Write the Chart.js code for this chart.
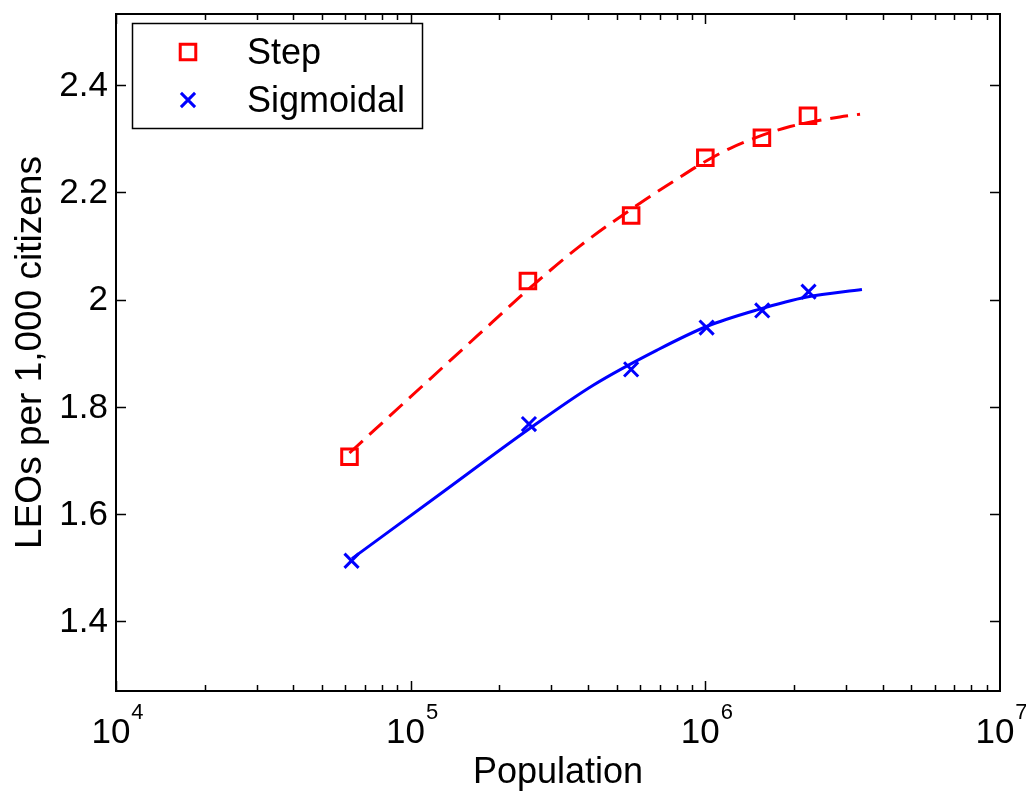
<!DOCTYPE html>
<html>
<head>
<meta charset="utf-8">
<script src="https://cdn.jsdelivr.net/npm/chart.js@4.4.1/dist/chart.umd.min.js"></script>
<style>
  body { margin: 0; background: #fff; }
  canvas { display: block; }
</style>
</head>
<body>
<canvas id="leoChart" width="1026" height="791"></canvas>
<script>
// observed values (markers)
var stepPop = [62000, 250000, 560000, 1000000, 1556000, 2230000];
var stepLeo = [1.707, 2.035, 2.157, 2.265, 2.302, 2.343];
var sigPop = [63000, 252000, 560000, 1010000, 1560000, 2240000];
var sigLeo = [1.513, 1.768, 1.870, 1.948, 1.980, 2.015];

// fitted curves
var stepFitPop = [62000, 116300, 190000, 248000, 375000, 600000, 776000, 959000, 1210000, 1530000, 1940000, 2860000, 3350000];
var stepFitLeo = [1.714, 1.852, 1.959, 2.017, 2.100, 2.180, 2.220, 2.252, 2.282, 2.305, 2.323, 2.341, 2.346];
var sigFitPop = [63200, 125600, 248000, 415000, 686000, 1010000, 1500000, 2210000, 3400000];
var sigFitLeo = [1.517, 1.637, 1.756, 1.840, 1.906, 1.950, 1.981, 2.005, 2.019];

var yTicks = [1.4, 1.6, 1.8, 2, 2.2, 2.4];
var yTickLabels = ['1.4', '1.6', '1.8', '2', '2.2', '2.4'];
var xTicks = [1e4, 1e5, 1e6, 1e7];
var xTickExp = ['4', '5', '6', '7'];
var seriesNames = ['Step', 'Sigmoidal'];

var FONT = '"Liberation Sans", Arial, Helvetica, sans-serif';

function pts(xs, ys) {
  return xs.map(function (x, i) { return { x: x, y: ys[i] }; });
}

var axesPlugin = {
  id: 'matlabAxes',
  afterDraw: function (chart) {
    var ctx = chart.ctx;
    var a = chart.chartArea;
    var xs = chart.scales.x, ys = chart.scales.y;
    ctx.save();
    ctx.strokeStyle = '#000';
    ctx.fillStyle = '#000';
    ctx.lineWidth = 2;
    ctx.strokeRect(a.left, a.top, a.right - a.left, a.bottom - a.top);

    // y ticks (left and right, pointing inward)
    ctx.beginPath();
    yTicks.forEach(function (v) {
      var py = Math.round(ys.getPixelForValue(v)) + 0.5;
      ctx.moveTo(a.left, py); ctx.lineTo(a.left + 10, py);
      ctx.moveTo(a.right, py); ctx.lineTo(a.right - 10, py);
    });
    // x major + minor ticks (bottom and top)
    for (var d = 1e4; d < 1e7; d *= 10) {
      for (var m = 1; m <= 9; m++) {
        var px = Math.round(xs.getPixelForValue(d * m)) + 0.5;
        var len = (m === 1) ? 10 : 6;
        ctx.moveTo(px, a.bottom); ctx.lineTo(px, a.bottom - len);
        ctx.moveTo(px, a.top); ctx.lineTo(px, a.top + len);
      }
    }
    ctx.lineWidth = 1.5;
    ctx.stroke();

    // y tick labels
    ctx.font = '35px ' + FONT;
    ctx.textAlign = 'right';
    ctx.textBaseline = 'middle';
    yTicks.forEach(function (v, i) {
      ctx.fillText(yTickLabels[i], a.left - 8, ys.getPixelForValue(v) + 1);
    });

    // x tick labels 10^n
    ctx.textBaseline = 'alphabetic';
    ctx.textAlign = 'left';
    xTicks.forEach(function (v, i) {
      var px = xs.getPixelForValue(v);
      ctx.font = '35px ' + FONT;
      var wBase = ctx.measureText('10').width;
      ctx.font = '22px ' + FONT;
      var wExp = ctx.measureText(xTickExp[i]).width;
      var x0 = px - (wBase + wExp) / 2 + 1;
      ctx.font = '35px ' + FONT;
      ctx.fillText('10', x0, 743);
      ctx.font = '22px ' + FONT;
      ctx.fillText(xTickExp[i], x0 + wBase + 1, 719);
    });

    // axis titles
    ctx.font = '36px ' + FONT;
    ctx.textAlign = 'center';
    ctx.fillText('Population', (a.left + a.right) / 2, 783);
    ctx.save();
    ctx.translate(41, (a.top + a.bottom) / 2);
    ctx.rotate(-Math.PI / 2);
    ctx.font = '37px ' + FONT;
    ctx.fillText('LEOs per 1,000 citizens', 0, 0);
    ctx.restore();

    // legend
    ctx.fillStyle = '#fff';
    ctx.fillRect(132, 23, 290, 105);
    ctx.lineWidth = 1.5;
    ctx.strokeStyle = '#000';
    ctx.strokeRect(132.5, 23.5, 290, 105);
    var rows = [52, 100];
    var markerDs = [chart.data.datasets[2], chart.data.datasets[3]];
    ctx.textAlign = 'left';
    ctx.textBaseline = 'middle';
    rows.forEach(function (ry, i) {
      var ds = markerDs[i];
      ctx.fillStyle = 'rgba(0,0,0,0)';
      ctx.strokeStyle = ds.borderColor;
      ctx.lineWidth = ds.pointBorderWidth;
      Chart.helpers.drawPoint(ctx, {
        pointStyle: ds.pointStyle,
        radius: ds.pointRadius,
        borderWidth: ds.pointBorderWidth
      }, 188, ry);
      ctx.fillStyle = '#000';
      ctx.font = '36px ' + FONT;
      ctx.fillText(seriesNames[i], 247, ry + 2);
    });
    ctx.restore();
  }
};

new Chart(document.getElementById('leoChart'), {
  type: 'scatter',
  data: {
    datasets: [
      {
        label: 'Step fit',
        data: pts(stepFitPop, stepFitLeo),
        showLine: true,
        borderColor: '#ff0000',
        borderWidth: 3,
        borderDash: [18, 9],
        pointRadius: 0,
        cubicInterpolationMode: 'monotone'
      },
      {
        label: 'Sigmoidal fit',
        data: pts(sigFitPop, sigFitLeo),
        showLine: true,
        borderColor: '#0000ff',
        borderWidth: 3,
        pointRadius: 0,
        cubicInterpolationMode: 'monotone'
      },
      {
        label: 'Step',
        data: pts(stepPop, stepLeo),
        showLine: false,
        pointStyle: 'rect',
        pointRadius: 11,
        pointBorderWidth: 3,
        borderColor: '#ff0000',
        backgroundColor: 'rgba(0,0,0,0)'
      },
      {
        label: 'Sigmoidal',
        data: pts(sigPop, sigLeo),
        showLine: false,
        pointStyle: 'crossRot',
        pointRadius: 10,
        pointBorderWidth: 3,
        borderColor: '#0000ff',
        backgroundColor: '#0000ff'
      }
    ]
  },
  options: {
    responsive: false,
    animation: false,
    layout: {
      padding: { left: 116, right: 26, top: 9, bottom: 100 }
    },
    plugins: {
      legend: { display: false },
      tooltip: { enabled: false }
    },
    scales: {
      x: {
        type: 'logarithmic',
        min: 1e4,
        max: 1e7,
        display: false
      },
      y: {
        type: 'linear',
        min: 1.27,
        max: 2.533,
        display: false
      }
    }
  },
  plugins: [axesPlugin]
});
</script>
</body>
</html>
